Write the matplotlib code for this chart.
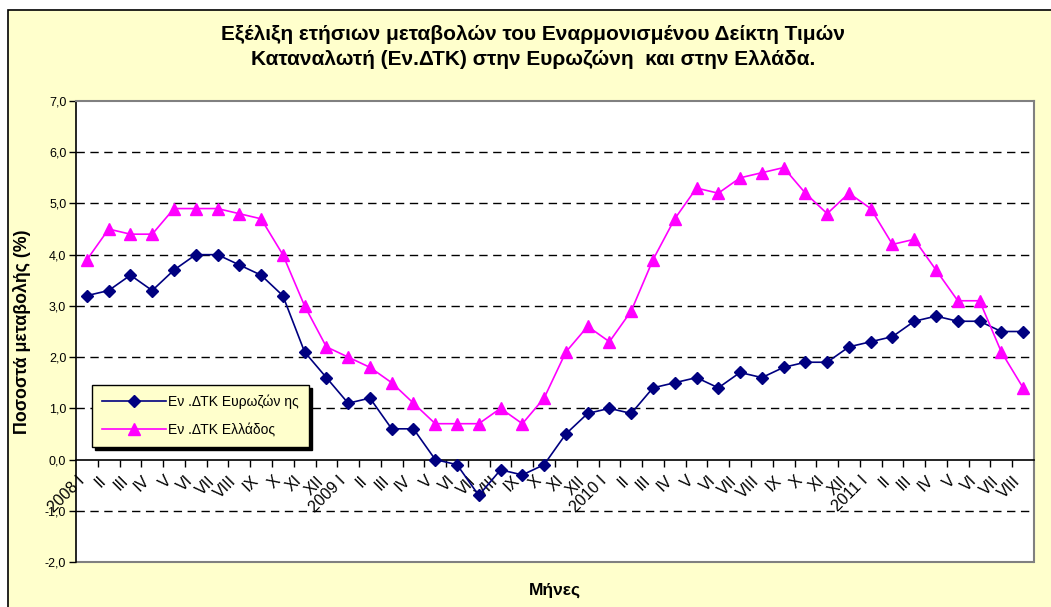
import matplotlib.pyplot as plt
import matplotlib.transforms as mtransforms
from matplotlib.patches import Rectangle

# Months 2008 I .. 2011 VIII
roman = ['I', 'II', 'III', 'IV', 'V', 'VI', 'VII', 'VIII', 'IX', 'X', 'XI', 'XII']
years = ['2008', '2009', '2010', '2011']
n_months = [12, 12, 12, 8]

month_labels = []
for yr, n in zip(years, n_months):
    for i in range(n):
        month_labels.append(f"{yr} {roman[i]}" if i == 0 else roman[i])

eurozone = [3.2, 3.3, 3.6, 3.3, 3.7, 4.0, 4.0, 3.8, 3.6, 3.2, 2.1, 1.6,
            1.1, 1.2, 0.6, 0.6, 0.0, -0.1, -0.7, -0.2, -0.3, -0.1, 0.5, 0.9,
            1.0, 0.9, 1.4, 1.5, 1.6, 1.4, 1.7, 1.6, 1.8, 1.9, 1.9, 2.2,
            2.3, 2.4, 2.7, 2.8, 2.7, 2.7, 2.5, 2.5]
greece = [3.9, 4.5, 4.4, 4.4, 4.9, 4.9, 4.9, 4.8, 4.7, 4.0, 3.0, 2.2,
          2.0, 1.8, 1.5, 1.1, 0.7, 0.7, 0.7, 1.0, 0.7, 1.2, 2.1, 2.6,
          2.3, 2.9, 3.9, 4.7, 5.3, 5.2, 5.5, 5.6, 5.7, 5.2, 4.8, 5.2,
          4.9, 4.2, 4.3, 3.7, 3.1, 3.1, 2.1, 1.4]

y_ticks = [-2, -1, 0, 1, 2, 3, 4, 5, 6, 7]

title = ("Εξέλιξη ετήσιων μεταβολών του Εναρμονισμένου Δείκτη Τιμών\n"
         "Καταναλωτή (Εν.ΔΤΚ) στην Ευρωζώνη  και στην Ελλάδα.")
label_ez = "Εν .ΔΤΚ Ευρωζών ης"
label_gr = "Εν .ΔΤΚ Ελλάδος"

plt.rcParams['font.family'] = ['Liberation Sans', 'DejaVu Sans']

W, H = 1051, 607
fig = plt.figure(figsize=(W / 100, H / 100), dpi=100)
fig.patch.set_facecolor('white')

# chart area background with black border (left and top)
bg = Rectangle((8 / W, -0.01), 1.0, 1 - 10 / H + 0.01, transform=fig.transFigure,
               facecolor='#FFFFCC', edgecolor='black', linewidth=1.2, zorder=-10)
fig.patches.append(bg)

ax = fig.add_axes([76 / W, 1 - 562 / H, (1034 - 76) / W, (562 - 101) / H])
ax.set_facecolor('white')

x = list(range(len(month_labels)))

# grid lines
for v in y_ticks[1:-1]:
    if v != 0:
        ax.axhline(v, color='black', linestyle=(0, (6, 4)), linewidth=1.0, zorder=1)

ax.plot(x, eurozone, color='#000080', marker='D', markersize=6.5, linewidth=1.2,
        label=label_ez, zorder=3)
ax.plot(x, greece, color='#FF00FF', marker='^', markersize=9, linewidth=1.2,
        label=label_gr, zorder=3)

ax.set_xlim(-0.5, len(x) - 0.5)
ax.set_ylim(-2, 7)

# spines
for s in ['top', 'right']:
    ax.spines[s].set_color('#808080')
    ax.spines[s].set_linewidth(1.5)
ax.spines['left'].set_color('black')
ax.spines['left'].set_linewidth(1.2)
ax.spines['bottom'].set_position(('data', 0))
ax.spines['bottom'].set_color('black')
ax.spines['bottom'].set_linewidth(1.2)
ax.add_patch(Rectangle((0, 0), 1, 0.001, transform=ax.transAxes, facecolor='none',
                       edgecolor='#808080', linewidth=1.5, clip_on=False, zorder=2))

ax.set_yticks(y_ticks)
ax.set_yticklabels([f"{v:.1f}".replace('.', ',') for v in y_ticks], fontsize=9)
ax.tick_params(axis='y', length=5, width=1, direction='out', pad=2)

ax.set_xticks(x)
ax.set_xticklabels(month_labels, fontsize=11.5, rotation=45, ha='right', va='center',
                   rotation_mode='anchor')
ax.set_xticks([i + 0.5 for i in x[:-1]], minor=True)
ax.tick_params(axis='x', which='major', length=0, pad=0)
ax.tick_params(axis='x', which='minor', length=5, width=1, direction='out')
shift = mtransforms.ScaledTranslation(-5 / 100, -19 / 100, fig.dpi_scale_trans)
for lbl in ax.get_xticklabels():
    lbl.set_transform(lbl.get_transform() + shift)

ax.set_ylabel("Ποσοστά μεταβολής (%)", fontsize=12.8, fontweight='bold', labelpad=10)
fig.text(555 / W, 1 - 590 / H, "Μήνες", fontsize=12.5, fontweight='bold',
         ha='center', va='center')
fig.text(533 / W, 1 - 47 / H, title, fontsize=15, fontweight='bold',
         ha='center', va='center', linespacing=1.45)

leg = ax.legend(loc='upper left', bbox_to_anchor=((92 - 76) / 958, (562 - 385) / 461),
                fontsize=10, frameon=True, fancybox=False,
                shadow={'color': 'black', 'alpha': 1},
                handlelength=4.6, borderpad=0.7, labelspacing=1.0,
                handletextpad=0.2, borderaxespad=0)
leg.get_frame().set_facecolor('#FFFFCC')
leg.get_frame().set_edgecolor('black')
leg.get_frame().set_alpha(1)
leg.set_zorder(5)

fig.savefig('out.png', dpi=100, facecolor=fig.get_facecolor())
